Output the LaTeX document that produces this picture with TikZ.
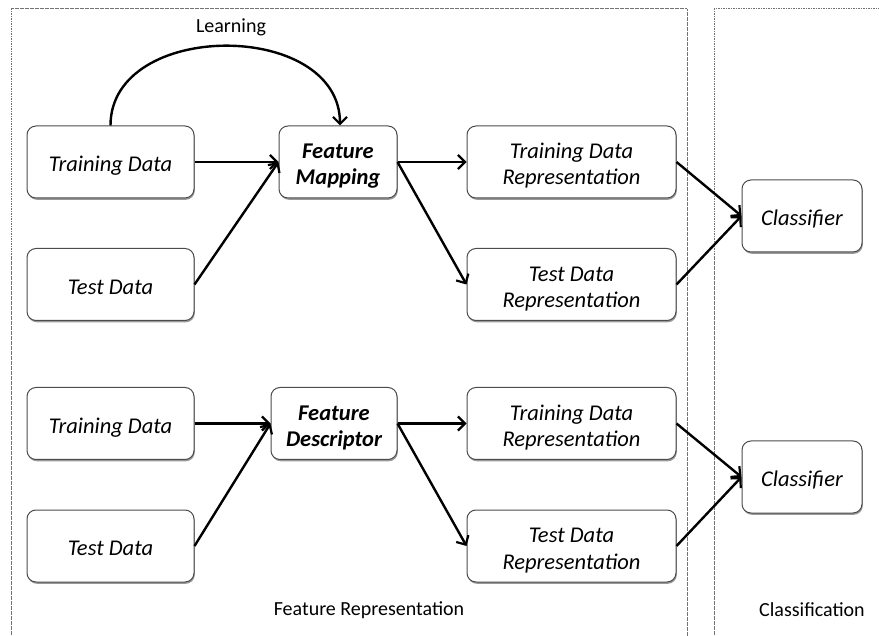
\documentclass[tikz,border=0pt]{standalone}
\usepackage{fontspec}
\setmainfont{Carlito}
\usetikzlibrary{arrows.meta,shadows}
\begin{document}
\begin{tikzpicture}[x=1pt,y=-1pt,
  box/.style={draw=black!70, line width=1pt, rounded corners=9pt, fill=white,
    align=center, font=\fontsize{22.5}{26.3}\selectfont\itshape, inner sep=0pt,
    minimum height=72pt,
    execute at begin node={\rule{0pt}{25.4pt}},
    execute at end node={\rule[-6pt]{0pt}{6pt}},
    drop shadow={shadow xshift=0.8pt, shadow yshift=-1.8pt, opacity=0.4, fill=black}},
  twoline/.style={box, execute at begin node={\rule{0pt}{52pt}}},
  databox/.style={box, minimum width=167pt},
  repbox/.style={twoline, minimum width=209pt},
  boldbox/.style={twoline, font=\fontsize{22.5}{26.3}\selectfont\bfseries\itshape},
  flow/.style={line width=2.4pt, -{Straight Barb[length=7pt,width=14pt,line width=2.2pt]}},
  frame/.style={draw=black!55, line width=1pt, dash pattern=on 1.6pt off 0.9pt},
  caption/.style={font=\fontsize{20}{24}\selectfont}
]
\useasboundingbox (0,0) rectangle (879,636);

% stage frames
\draw[frame] (11,640) -- (11,9) -- (687,9) -- (687,640);
\draw[frame] (714,640) -- (714,9) -- (882,9);

% learned feature mapping
\node[databox] (trA) at (110.5,162) {Training Data};
\node[databox] (teA) at (110.5,284.5) {Test Data};
\node[boldbox, minimum width=118pt] (fm) at (338,162) {Feature\\Mapping};
\node[repbox] (trrA) at (571.5,162) {Training Data\\Representation};
\node[repbox] (terA) at (571.5,284.5) {Test Data\\Representation};
\node[box, minimum width=120pt] (clA) at (802,216) {Classifier};

% hand-crafted feature descriptor
\node[databox] (trB) at (110.5,423.5) {Training Data};
\node[databox] (teB) at (110.5,546) {Test Data};
\node[boldbox, minimum width=126pt] (fd) at (334,423.5) {Feature\\Descriptor};
\node[repbox] (trrB) at (571.5,423.5) {Training Data\\Representation};
\node[repbox] (terB) at (571.5,546) {Test Data\\Representation};
\node[box, minimum width=120pt] (clB) at (802,477) {Classifier};

% connectors
\draw[flow] (trA.east) -- (fm.west);
\draw[flow] (teA.east) -- (fm.west);
\draw[flow] (fm.east) -- (trrA.west);
\draw[flow] (fm.east) -- (terA.west);
\draw[flow] (trrA.east) -- (clA.west);
\draw[flow] (terA.east) -- (clA.west);
\draw[flow] (trA.north) .. controls +(0,-106) and +(0,-106) .. ([xshift=2pt]fm.north);

\draw[flow] (trB.east) -- (fd.west);
\draw[flow] (teB.east) -- (fd.west);
\draw[flow] (fd.east) -- (trrB.west);
\draw[flow] (fd.east) -- (terB.west);
\draw[flow] (trrB.east) -- (clB.west);
\draw[flow] (terB.east) -- (clB.west);

% captions
\node[caption] (learn) at (231,27) {Learning};
\node[caption] (featrep) at (369,610) {Feature Representation};
\node[caption] (classif) at (812,610) {Classification};
\end{tikzpicture}
\end{document}
